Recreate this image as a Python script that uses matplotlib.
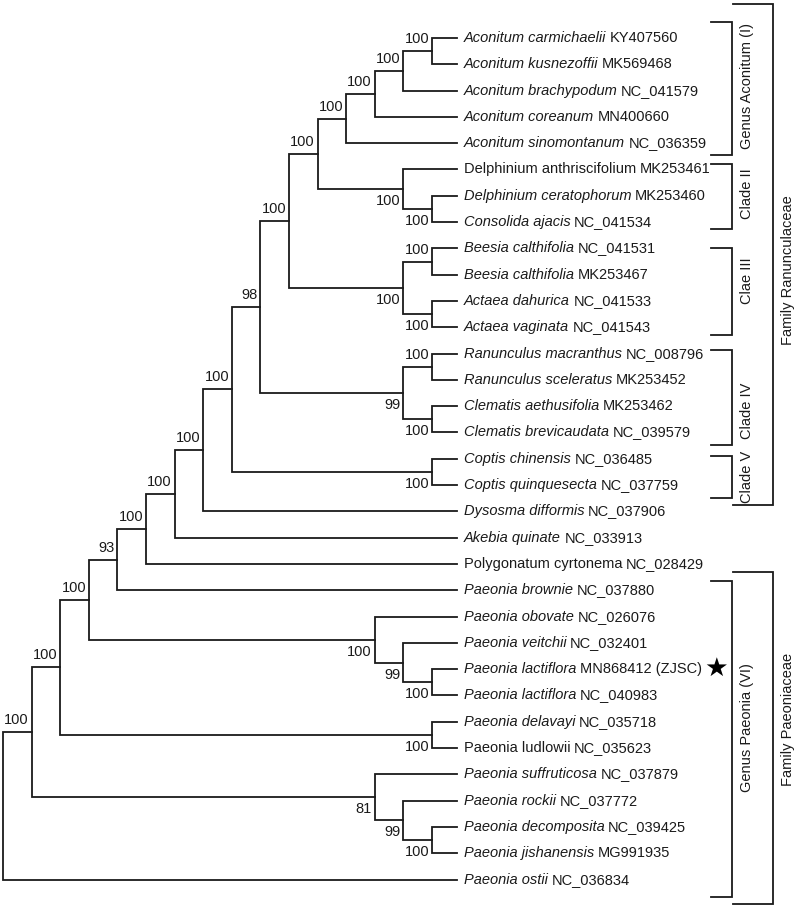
import matplotlib
matplotlib.use('Agg')
import matplotlib.pyplot as plt

plt.rcParams['font.family'] = ['Liberation Sans', 'DejaVu Sans']
plt.rcParams['font.size'] = 10.5

# leaf labels, top to bottom
species = ['Aconitum carmichaelii', 'Aconitum kusnezoffii', 'Aconitum brachypodum',
           'Aconitum coreanum', 'Aconitum sinomontanum', 'Delphinium anthriscifolium',
           'Delphinium ceratophorum', 'Consolida ajacis', 'Beesia calthifolia',
           'Beesia calthifolia', 'Actaea dahurica', 'Actaea vaginata',
           'Ranunculus macranthus', 'Ranunculus sceleratus', 'Clematis aethusifolia',
           'Clematis brevicaudata', 'Coptis chinensis', 'Coptis quinquesecta',
           'Dysosma difformis', 'Akebia quinate', 'Polygonatum cyrtonema',
           'Paeonia brownie', 'Paeonia obovate', 'Paeonia veitchii',
           'Paeonia lactiflora', 'Paeonia lactiflora', 'Paeonia delavayi',
           'Paeonia ludlowii', 'Paeonia suffruticosa', 'Paeonia rockii',
           'Paeonia decomposita', 'Paeonia jishanensis', 'Paeonia ostii']
accession = ['KY407560', 'MK569468', 'NC_041579', 'MN400660', 'NC_036359', 'MK253461',
             'MK253460', 'NC_041534', 'NC_041531', 'MK253467', 'NC_041533', 'NC_041543',
             'NC_008796', 'MK253452', 'MK253462', 'NC_039579', 'NC_036485', 'NC_037759',
             'NC_037906', 'NC_033913', 'NC_028429', 'NC_037880', 'NC_026076', 'NC_032401',
             'MN868412 (ZJSC)', 'NC_040983', 'NC_035718', 'NC_035623', 'NC_037879',
             'NC_037772', 'NC_039425', 'MG991935', 'NC_036834']
# names printed upright in the original
roman = [5, 20, 27]
star_leaf = 24

# internal nodes: name, first child, second child, depth, bootstrap
nodes = [
    ('acon1', 0, 1, 15, 100),
    ('acon2', 'acon1', 2, 14, 100),
    ('acon3', 'acon2', 3, 13, 100),
    ('acon4', 'acon3', 4, 12, 100),
    ('delph2', 6, 7, 15, 100),
    ('delph1', 5, 'delph2', 14, 100),
    ('acdel', 'acon4', 'delph1', 11, 100),
    ('bees', 8, 9, 15, 100),
    ('act', 10, 11, 15, 100),
    ('beact', 'bees', 'act', 14, 100),
    ('n10', 'acdel', 'beact', 10, 100),
    ('ran', 12, 13, 15, 100),
    ('clem', 14, 15, 15, 100),
    ('ranclem', 'ran', 'clem', 14, 99),
    ('n9', 'n10', 'ranclem', 9, 98),
    ('copt', 16, 17, 15, 100),
    ('n8', 'n9', 'copt', 8, 100),
    ('n7', 'n8', 18, 7, 100),
    ('n6', 'n7', 19, 6, 100),
    ('n5', 'n6', 20, 5, 100),
    ('n4', 'n5', 21, 4, 93),
    ('lac', 24, 25, 15, 100),
    ('veit', 23, 'lac', 14, 99),
    ('obov', 22, 'veit', 13, 100),
    ('n3', 'n4', 'obov', 3, 100),
    ('dela', 26, 27, 15, 100),
    ('n2', 'n3', 'dela', 2, 100),
    ('dj', 30, 31, 15, 100),
    ('rock', 29, 'dj', 14, 99),
    ('suff', 28, 'rock', 13, 81),
    ('n1', 'n2', 'suff', 1, 100),
    ('root', 'n1', 32, 0, None),
]

clade_names = ['Genus Aconitum (I)', 'Clade II', 'Clae III', 'Clade IV', 'Clade V',
               'Genus Paeonia (VI)']
clade_first = [0, 5, 8, 12, 16, 21]
clade_last = [4, 7, 11, 15, 17, 32]
family_names = ['Family Ranunculaceae', 'Family Paeoniaceae']
family_first = [0, 21]
family_last = [17, 32]

# layout (bracket padding in rows, label shift in rows)
clade_pad = [(0.61, 0.45), (0.21, 0.25), (0.02, 0.3), (0.14, 0.48), (0.11, 0.49), (0.35, 0.66)]
clade_shift = [-0.1, -0.1, -0.4, 0.5, 0.0, -0.45]
family_pad = [(1.29, 0.76), (0.70, 0.93)]
family_shift = [0.6, -0.7]

TIP = 15.87
COL = '#1a1a1a'
LW = 1.3

fig = plt.figure(figsize=(8, 9.09), dpi=100)
ax = fig.add_axes([0, 0, 1, 1])
ax.set_xlim(-0.105, 27.87)
ax.set_ylim(33.12, -1.445)
ax.axis('off')

pos = {i: (TIP, i) for i in range(len(species))}
first_child = {}
for name, a, b, depth, sup in nodes:
    xa, ya = pos[a]
    xb, yb = pos[b]
    pos[name] = (depth, (ya + yb) / 2)
    first_child[a] = True
    first_child[b] = False
    ax.plot([xa, depth, depth, xb], [ya, ya, yb, yb], color=COL, lw=LW,
            solid_joinstyle='miter')

# bootstrap values
for name, a, b, depth, sup in nodes:
    if sup is None:
        continue
    x, y = pos[name]
    dy = 8.6 if first_child[name] else -8.6
    ax.annotate(str(sup), xy=(x, y), xytext=(-2, dy), textcoords='offset points',
                ha='right', va='center', color=COL)

# leaf labels
for i, (sp, acc) in enumerate(zip(species, accession)):
    t1 = ax.annotate(sp, xy=(TIP, i), xytext=(5, 0), textcoords='offset points',
                     ha='left', va='center', color=COL,
                     style='normal' if i in roman else 'italic')
    t2 = ax.annotate(acc, xy=(1, 0), xycoords=t1, xytext=(2.6, 0),
                     textcoords='offset points', ha='left', va='bottom', color=COL)
    if i == star_leaf:
        ax.annotate('\u2605', xy=(1, 0.5), xycoords=t2, xytext=(2, 0),
                    textcoords='offset points', ha='left', va='center',
                    fontsize=19, family='DejaVu Sans', color='black')

# brackets
def bracket(x0, x1, top, bot, label, lx, ly):
    ax.plot([x0, x1, x1, x0], [top, top, bot, bot], color=COL, lw=LW,
            solid_joinstyle='miter')
    ax.text(lx, ly, label, rotation=90, ha='center', va='center', color=COL)

for k, name in enumerate(clade_names):
    top = clade_first[k] - clade_pad[k][0]
    bot = clade_last[k] + clade_pad[k][1]
    bracket(24.76, 25.49, top, bot, name, 26.0, (top + bot) / 2 + clade_shift[k])

for k, name in enumerate(family_names):
    top = family_first[k] - family_pad[k][0]
    bot = family_last[k] + family_pad[k][1]
    bracket(25.52, 26.94, top, bot, name, 27.45, (top + bot) / 2 + family_shift[k])

fig.savefig('out.png', dpi=100)
